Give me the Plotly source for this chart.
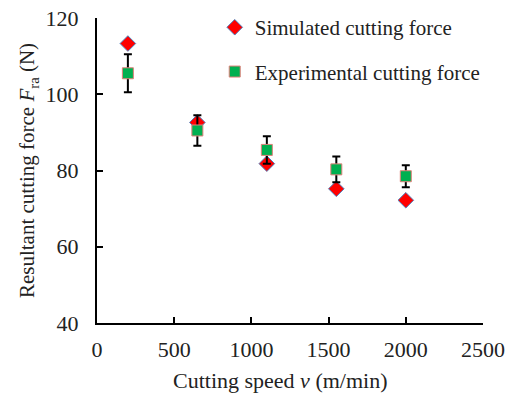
import plotly.graph_objects as go

# Cutting speed (m/min)
speed = [200, 650, 1100, 1550, 2000]
# Resultant cutting force (N)
simulated = [113.3, 92.6, 81.8, 75.2, 72.2]
experimental = [105.5, 90.5, 85.4, 80.3, 78.5]
exp_error = [5.0, 4.0, 3.6, 3.4, 2.9]

x_ticks = [0, 500, 1000, 1500, 2000, 2500]
y_ticks = [40, 60, 80, 100, 120]

FONT = "Liberation Serif"

fig = go.Figure()

fig.add_trace(go.Scatter(
    x=speed, y=simulated, mode="markers",
    name="Simulated cutting force", legendgroup="sim",
    marker=dict(symbol="diamond", size=12, color="#FF0000",
                line=dict(color="#4F81BD", width=1)),
))

fig.add_trace(go.Scatter(
    x=speed, y=experimental, mode="markers",
    name="Experimental cutting force", legendgroup="exp",
    marker=dict(symbol="square", size=11, color="#00B050",
                line=dict(color="#E0807A", width=1)),
    error_y=dict(type="data", array=exp_error, visible=True,
                 color="black", thickness=2, width=4),
))

# x-axis title placed slightly left of the plot centre
fig.add_annotation(
    text="Cutting speed <i>v</i> (m/min)",
    xref="paper", yref="paper", x=0.474, y=-0.187,
    xanchor="center", yanchor="middle", showarrow=False,
    font=dict(family=FONT, size=22, color="#222222"),
)

fig.update_layout(
    width=514, height=395,
    margin=dict(l=97, r=31, t=18, b=72, autoexpand=False),
    paper_bgcolor="white", plot_bgcolor="white",
    font=dict(family=FONT, size=22, color="#222222"),
    showlegend=True,
    legend=dict(x=0.305, y=0.982, xanchor="left", yanchor="top",
                yref="container",
                bgcolor="rgba(0,0,0,0)", font=dict(family=FONT, size=21),
                tracegroupgap=14, traceorder="grouped"),
    xaxis=dict(
        range=[0, 2500], tickvals=x_ticks, ticktext=[str(v) for v in x_ticks],
        showgrid=False, zeroline=False, showline=True,
        linecolor="black", linewidth=2,
        ticks="inside", ticklen=6, tickwidth=2, tickcolor="black",
        ticklabelstandoff=6, tickfont=dict(family=FONT, size=22),
    ),
    yaxis=dict(
        range=[40, 120], tickvals=y_ticks, ticktext=[str(v) for v in y_ticks],
        showgrid=False, zeroline=False, showline=True,
        linecolor="black", linewidth=2,
        ticks="inside", ticklen=6, tickwidth=2, tickcolor="black",
        ticklabelstandoff=12, tickfont=dict(family=FONT, size=22),
        title=dict(text="Resultant cutting force <i>F</i><sub>ra</sub> (N)",
                   standoff=5, font=dict(family=FONT, size=21)),
    ),
)

fig.write_html("out.html")
